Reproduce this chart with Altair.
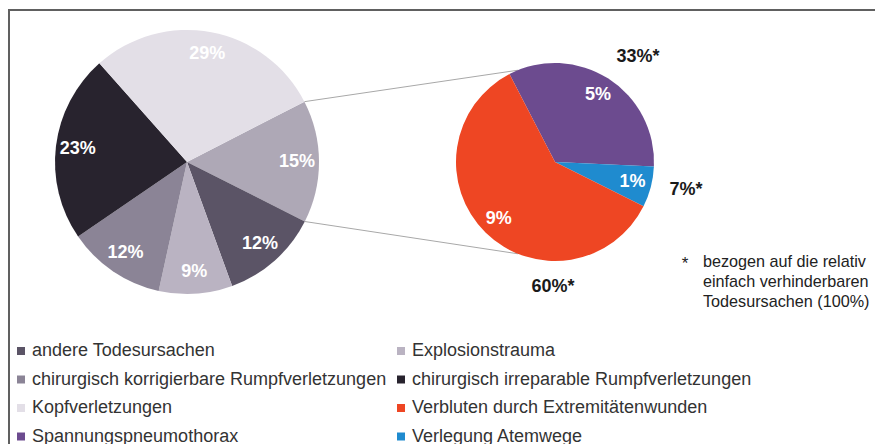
import math
import altair as alt
import pandas as pd

# ---------------- data ----------------
left_cats = ["einfach verhinderbar", "andere Todesursachen", "Explosionstrauma",
             "chirurgisch korrigierbare Rumpfverletzungen",
             "chirurgisch irreparable Rumpfverletzungen", "Kopfverletzungen"]
left_vals = [15, 12, 9, 12, 23, 29]

right_cats = ["Spannungspneumothorax", "Verlegung Atemwege",
              "Verbluten durch Extremitätenwunden"]
right_vals = [5, 1, 9]
right_share = ["33%*", "7%*", "60%*"]

# legend entries, listed column by column (two columns)
legend_col1 = ["andere Todesursachen",
               "chirurgisch korrigierbare Rumpfverletzungen",
               "Kopfverletzungen", "Spannungspneumothorax"]
legend_col2 = ["Explosionstrauma",
               "chirurgisch irreparable Rumpfverletzungen",
               "Verbluten durch Extremitätenwunden", "Verlegung Atemwege"]

footnote_lines = ["bezogen auf die relativ", "einfach verhinderbaren",
                  "Todesursachen (100%)"]

palette = {
    "einfach verhinderbar": "#aea8b6",
    "andere Todesursachen": "#5b5466",
    "Explosionstrauma": "#bab3c2",
    "chirurgisch korrigierbare Rumpfverletzungen": "#8b8496",
    "chirurgisch irreparable Rumpfverletzungen": "#28232e",
    "Kopfverletzungen": "#e3dfe7",
    "Verbluten durch Extremitätenwunden": "#ee4623",
    "Spannungspneumothorax": "#6c4b8f",
    "Verlegung Atemwege": "#1f8bcf",
}

# ---------------- layout ----------------
W, H = 867, 436
FONT = "Liberation Sans"
cx1, cy1, r1 = 179, 154, 132
cx2, cy2, r2 = 547, 154, 99
a_left = math.radians(62.8)     # start of first left slice
a_right = math.radians(332.6)   # start of first right slice
TAU = 2 * math.pi


def pie_frame(cats, vals, labels):
    df = pd.DataFrame({"cat": cats, "v": vals, "lbl": labels})
    df["end"] = df["v"].cumsum()
    df["start"] = df["end"] - df["v"]
    df["mid"] = (df["start"] + df["end"]) / 2
    return df


left_df = pie_frame(left_cats, left_vals, [f"{v}%" for v in left_vals])
right_df = pie_frame(right_cats, right_vals, [f"{v}%" for v in right_vals])
right_df["share"] = right_share

color_scale = alt.Scale(domain=list(palette.keys()), range=list(palette.values()))
legend = alt.Legend(
    title=None, orient="none", legendX=4, legendY=334, columns=2,
    values=legend_col1 + legend_col2, symbolType="square", symbolSize=64,
    symbolStrokeWidth=0, labelFont=FONT, labelFontSize=18, labelColor="#333333",
    labelOffset=2, rowPadding=10.5, columnPadding=5, padding=0, labelLimit=600,
)

th_left = alt.Scale(domain=[0, sum(left_vals)], range=[a_left, a_left + TAU])
th_right = alt.Scale(domain=[0, sum(right_vals)], range=[a_right, a_right + TAU])

# connector lines: from edges of the grouped slice to the secondary pie
g_start = a_left
g_end = a_left + TAU * left_vals[0] / sum(left_vals)
conn_up = math.radians(338)
conn_dn = math.radians(202)
conn_df = pd.DataFrame({
    "x1": [cx1 + r1 * math.sin(g_start), cx1 + r1 * math.sin(g_end)],
    "y1": [cy1 - r1 * math.cos(g_start), cy1 - r1 * math.cos(g_end)],
    "x2": [cx2 + r2 * math.sin(conn_up), cx2 + r2 * math.sin(conn_dn)],
    "y2": [cy2 - r2 * math.cos(conn_up), cy2 - r2 * math.cos(conn_dn)],
})

one = pd.DataFrame({"t": ["\n".join(footnote_lines)]})

# ---------------- layers ----------------
border_top = alt.Chart(one).mark_rule(color="#606060", strokeWidth=2).encode(
    x=alt.value(0), x2=alt.value(W), y=alt.value(2))
border_left = alt.Chart(one).mark_rule(color="#606060", strokeWidth=2).encode(
    x=alt.value(1), y=alt.value(1), y2=alt.value(H))

connectors = alt.Chart(conn_df).mark_rule(color="#a8a8a8", strokeWidth=1).encode(
    x=alt.X("x1:Q", scale=None), y=alt.Y("y1:Q", scale=None),
    x2="x2:Q", y2="y2:Q")

left_pie = alt.Chart(left_df).mark_arc(radius=r1).encode(
    theta=alt.Theta("start:Q", scale=th_left), theta2="end:Q",
    color=alt.Color("cat:N", scale=color_scale, legend=legend),
    x=alt.value(cx1), y=alt.value(cy1))

left_lbl = alt.Chart(left_df).mark_text(
    radius=110, font=FONT, fontSize=18, fontWeight="bold", color="white").encode(
    theta=alt.Theta("mid:Q", scale=th_left), text="lbl:N",
    x=alt.value(cx1), y=alt.value(cy1))

right_pie = alt.Chart(right_df).mark_arc(radius=r2).encode(
    theta=alt.Theta("start:Q", scale=th_right), theta2="end:Q",
    color=alt.Color("cat:N", scale=color_scale, legend=legend),
    x=alt.value(cx2), y=alt.value(cy2))

right_lbl = alt.Chart(right_df).mark_text(
    radius=80, font=FONT, fontSize=18, fontWeight="bold", color="white").encode(
    theta=alt.Theta("mid:Q", scale=th_right), text="lbl:N",
    x=alt.value(cx2), y=alt.value(cy2))


def outer(cat, radius, offset):
    return alt.Chart(right_df).transform_filter(
        alt.datum.cat == cat).mark_text(
        radius=radius, thetaOffset=offset, font=FONT, fontSize=18,
        fontWeight="bold", color="#1a1a1a").encode(
        theta=alt.Theta("mid:Q", scale=th_right), text="share:N",
        x=alt.value(cx2), y=alt.value(cy2))


out1 = outer(right_cats[0], 134, 0.10)
out2 = outer(right_cats[1], 134, -0.045)
out3 = outer(right_cats[2], 125, -0.763)

star = alt.Chart(one).mark_text(font=FONT, fontSize=17, color="#222222").encode(
    text=alt.value("*"), x=alt.value(677), y=alt.value(256))
foot = alt.Chart(one).mark_text(
    font=FONT, fontSize=16.2, color="#222222", align="left", baseline="top",
    lineBreak="\n", lineHeight=20).encode(
    text="t:N", x=alt.value(695), y=alt.value(246))

chart = alt.layer(
    border_top, border_left, connectors, left_pie, left_lbl, right_pie,
    right_lbl, out1, out2, out3, star, foot,
).resolve_scale(theta="independent").properties(
    width=W, height=H, padding=0, autosize="none", background="white"
).configure_view(stroke=None)

chart.save("out.html", embed_options={"renderer": "svg", "actions": False})
